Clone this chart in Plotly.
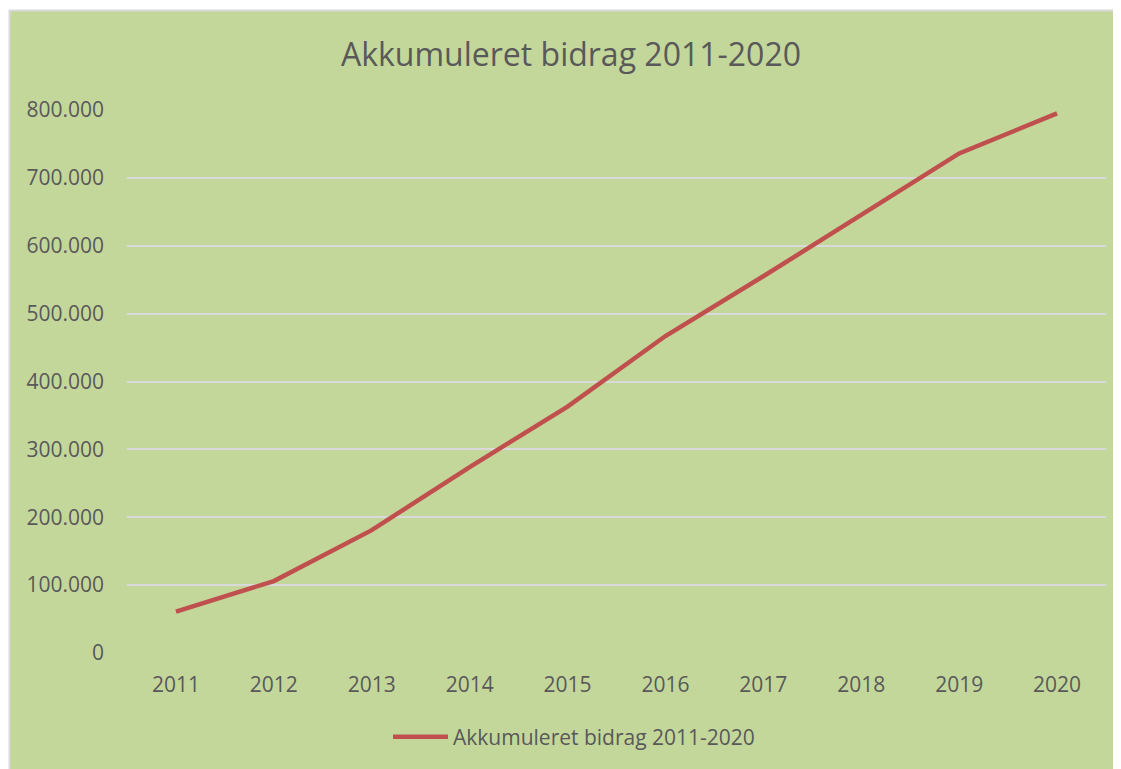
import plotly.graph_objects as go

years = ["2011", "2012", "2013", "2014", "2015", "2016", "2017", "2018", "2019", "2020"]
values = [61000, 106000, 181000, 274000, 363000, 467000, 555000, 645000, 736000, 795000]
series_name = "Akkumuleret bidrag 2011-2020"
title_text = "Akkumuleret bidrag 2011-2020"
ytick_vals = [0, 100000, 200000, 300000, 400000, 500000, 600000, 700000, 800000]
ytick_text = ["0", "100.000", "200.000", "300.000", "400.000", "500.000", "600.000", "700.000", "800.000"]

W, H = 1113, 761
ML, MR, MT, MB = 119, 15, 102, 116
pw = W - ML - MR
ph = H - MT - MB

def px(x):
    return (x - ML) / pw

def py(y):
    return (H - MB - y) / ph

GREEN = "#C4D79B"
TXT = "#595959"
FONT = "Open Sans"

fig = go.Figure()
fig.add_trace(go.Scatter(
    x=years, y=values, mode="lines", name=series_name,
    line=dict(color="#C0504D", width=4.5),
))

fig.update_layout(
    width=W, height=H,
    margin=dict(l=ML, r=MR, t=MT, b=MB, autoexpand=False),
    paper_bgcolor=GREEN, plot_bgcolor=GREEN,
    font=dict(family=FONT, color=TXT),
    title=dict(text=title_text, x=563 / W, xref="container", xanchor="center",
               y=1 - 47 / H, yanchor="middle",
               font=dict(family=FONT, size=32, color=TXT)),
    showlegend=True,
    legend=dict(orientation="h", x=px(380), xanchor="left", y=py(729), yanchor="middle",
                bgcolor="rgba(0,0,0,0)", font=dict(family=FONT, size=21, color=TXT),
                itemwidth=55),
    xaxis=dict(type="category", range=[-0.5, 9.5], showgrid=False, zeroline=False,
               showline=False, ticks="", tickfont=dict(size=21, color=TXT),
               ticklabelstandoff=17),
    yaxis=dict(range=[0, 800000], tickvals=ytick_vals, ticktext=ytick_text,
               showgrid=True, gridcolor="#D9D9D9", gridwidth=1.5, zeroline=False,
               showline=False, ticks="", tickfont=dict(size=21, color=TXT),
               ticklabelstandoff=22),
    shapes=[
        dict(type="rect", xref="paper", yref="paper", x0=px(0), x1=px(W), y0=py(0), y1=py(2),
             fillcolor="white", line=dict(width=0), layer="below"),
        dict(type="rect", xref="paper", yref="paper", x0=px(0), x1=px(1), y0=py(0), y1=py(H),
             fillcolor="white", line=dict(width=0), layer="below"),
        dict(type="line", xref="paper", yref="paper", x0=px(1), x1=px(W), y0=py(2.5), y1=py(2.5),
             line=dict(color="#D9D9D9", width=2)),
        dict(type="line", xref="paper", yref="paper", x0=px(1.5), x1=px(1.5), y0=py(2), y1=py(H),
             line=dict(color="#D9D9D9", width=2)),
    ],
)

fig.write_html("out.html")
